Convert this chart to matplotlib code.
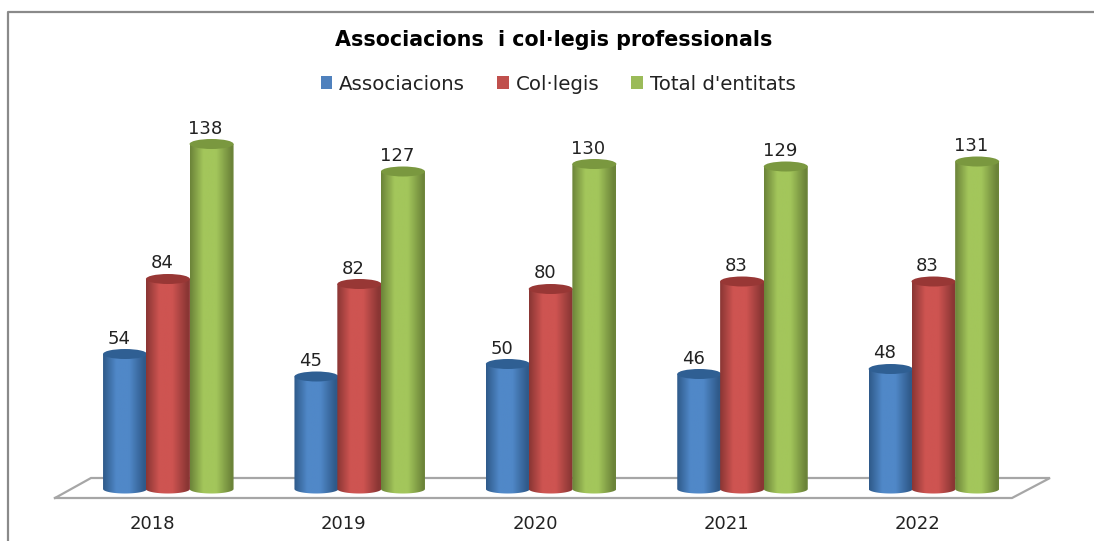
import numpy as np
import matplotlib
matplotlib.use('Agg')
import matplotlib.pyplot as plt
from matplotlib.colors import LinearSegmentedColormap
from matplotlib.patches import Ellipse, Patch, PathPatch
from matplotlib.path import Path
from matplotlib.lines import Line2D

years = ['2018', '2019', '2020', '2021', '2022']
series_names = ['Associacions', 'Col·legis', "Total d'entitats"]
associacions = [54, 45, 50, 46, 48]
collegis = [84, 82, 80, 83, 83]
total = [138, 127, 130, 129, 131]

W, H = 1094, 541
PX_X = 191.4   # pixels per category
PX_Y = 2.5     # pixels per unit
X0, Y0 = 150.7, 489

bar_w = 44 / PX_X
offsets = [-0.134, 0.09, 0.318]
top_h = 10 / PX_Y
bottom_h = 9 / PX_Y
label_shift = -6 / PX_X
# edge, light, top of cylinder, legend
styles = [('#2f5a8a', '#5088c8', '#2f5f93', '#4f81bd'),
          ('#8a3634', '#ce5451', '#983735', '#c0504d'),
          ('#6c8439', '#a3c65b', '#7a983f', '#9bbb59')]


def draw_cylinder(ax, x, value, style, z):
    left, right = x - bar_w / 2, x + bar_w / 2
    # shaded body
    cmap = LinearSegmentedColormap.from_list('c', [(0, style[0]), (0.3, style[1]), (0.6, style[1]),
                                                  (0.95, style[0]), (1, style[0])])
    grad = np.linspace(0, 1, 64).reshape(1, -1)
    im = ax.imshow(grad, extent=(left, right, -3, value), cmap=cmap, aspect='auto', zorder=z,
                   origin='lower', interpolation='bilinear')
    t = np.linspace(np.pi, 2 * np.pi, 40)
    bx = x + bar_w / 2 * np.cos(t)
    by = bottom_h / 2 * np.sin(t)
    verts = np.vstack([np.column_stack([bx, by]), [right, value], [left, value], [bx[0], by[0]]])
    clip = PathPatch(Path(verts), transform=ax.transData, facecolor='none', edgecolor='none')
    ax.add_patch(clip)
    im.set_clip_path(clip)
    # top
    ax.add_patch(Ellipse((x, value), bar_w, top_h, facecolor=style[2], edgecolor='none', zorder=z + 0.1))


fig = plt.figure(figsize=(W / 100, H / 100), dpi=100)
ax = fig.add_axes([0, 0, 1, 1])

# floor of the 3d plot
floor_x = [-0.5, 4.5, 4.5 + 38 / PX_X, -0.5 + 36 / PX_X, -0.5]
floor_y = [-3.6, -3.6, 4.4, 4.4, -3.6]
ax.plot(floor_x, floor_y, color='#a6a6a6', lw=1.6, zorder=1, solid_joinstyle='miter')

for s, values in enumerate([associacions, collegis, total]):
    for i, v in enumerate(values):
        x = i + offsets[s]
        draw_cylinder(ax, x, v, styles[s], 2 + s + i * 0.01)
        ax.text(x + label_shift, v + 4.2, str(v), ha='center', va='baseline', fontsize=13, color='#222222',
                zorder=10)

for i, y in enumerate(years):
    ax.text(i + 1.5 / PX_X, -14, y, ha='center', va='center', fontsize=13, color='#222222')

ax.set_xlim(-X0 / PX_X, (W - X0) / PX_X)
ax.set_ylim(-(H - Y0) / PX_Y, Y0 / PX_Y)
ax.axis('off')

fig.text(554 / W, 1 - 40 / H, 'Associacions  i col·legis professionals', ha='center', va='center',
         fontsize=14.9, fontweight='bold', color='black')

handles = [Patch(facecolor=st[3], edgecolor='none') for st in styles]
fig.legend(handles, series_names, loc='center', bbox_to_anchor=(558 / W, 1 - 84 / H), ncol=3, frameon=False,
           fontsize=14.2, handlelength=0.6, handleheight=0.6, handletextpad=0.35, columnspacing=1.6,
           labelcolor='#222222')

# chart border, left and top only
fig.add_artist(Line2D([8 / W, 8 / W, 1], [0, 1 - 12 / H, 1 - 12 / H], color='#8a8a8a', lw=1.6,
                      transform=fig.transFigure))

fig.savefig('out.png', dpi=100)
